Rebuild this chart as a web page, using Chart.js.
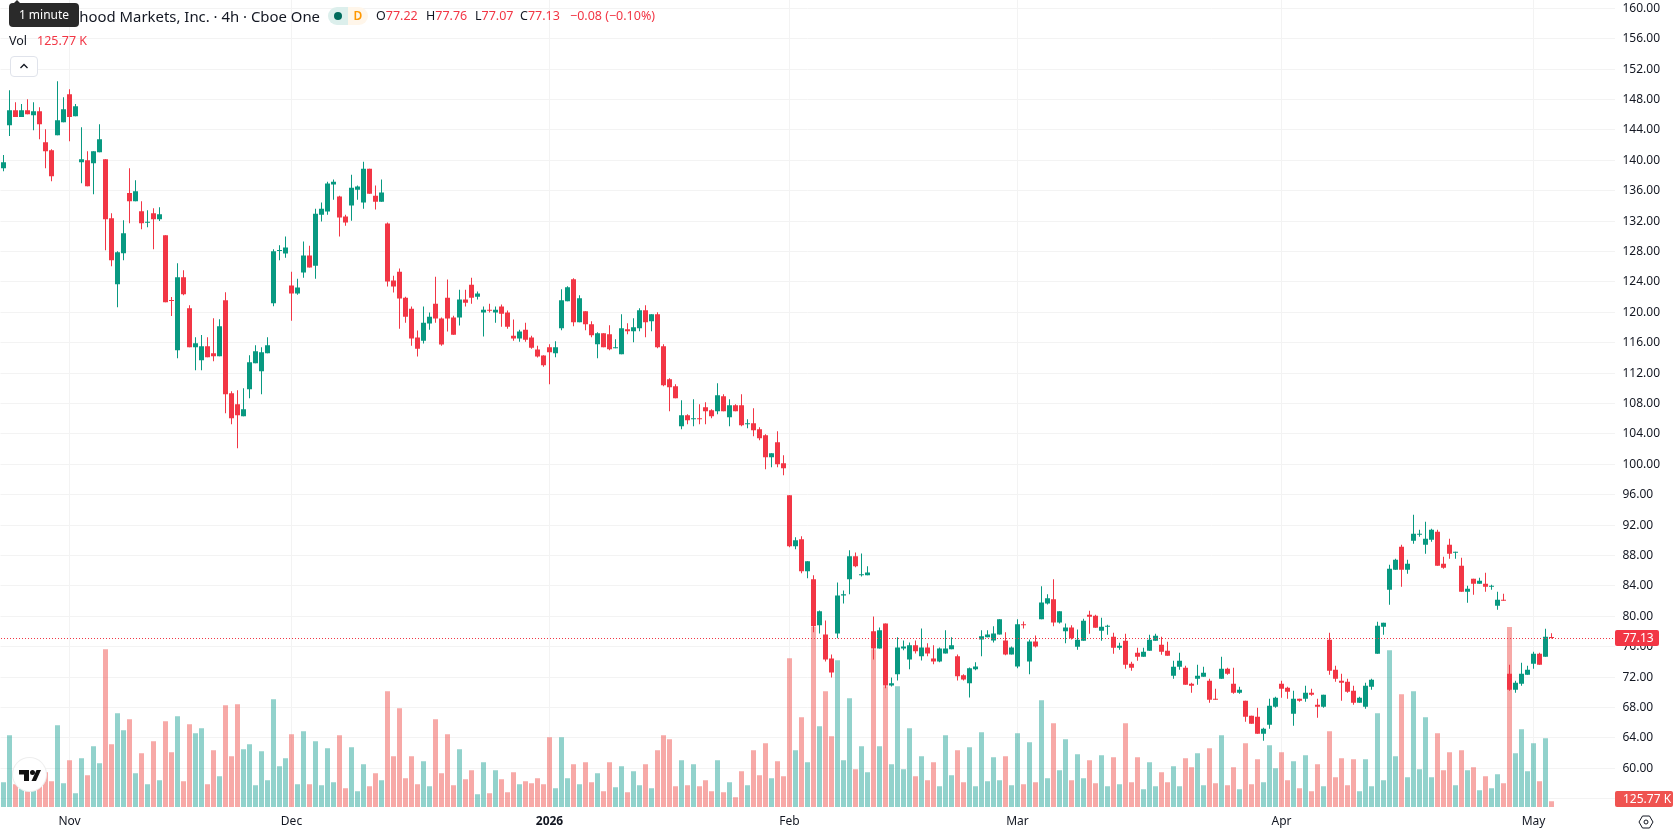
<!DOCTYPE html>
<html>
<head>
<meta charset="utf-8">
<title>Robinhood Markets, Inc.</title>
<script src="https://cdn.jsdelivr.net/npm/chart.js@4/dist/chart.umd.min.js"></script>
<style>
    html, body { margin: 0; padding: 0; background: #fff; overflow: hidden; }
    body { width: 1678px; height: 835px; position: relative; font-family: "Noto Sans", sans-serif; color: #131722; }
    canvas { position: absolute; left: 0; top: 0; }
    .legend { position: absolute; white-space: nowrap; font-size: 12.5px; line-height: 16px; background: none; }
    .red { color: #f23645; }
    #title { right: 1358px; top: 6px; font-size: 14.900px; line-height: 20px; }
    #dot-pill { position: absolute; left: 328px; top: 7px; width: 20px; height: 18px; border-radius: 9px 0 0 9px; background: #dcefec; }
    #dot-pill i { position: absolute; left: 6px; top: 5px; width: 8px; height: 8px; border-radius: 50%; background: #006b5c; }
    #delay-pill { position: absolute; left: 348px; top: 7px; width: 20px; height: 18px; border-radius: 0 9px 9px 0; background: #fff6ea; color: #ff9800; font-size: 12px; line-height: 18px; text-align: center; font-weight: 600; }
    #tip { position: absolute; left: 9px; top: 3px; width: 70px; height: 24px; border-radius: 4px; background: #2a2a2a; color: #fff; font-size: 12px; line-height: 24px; text-align: center; }
    #tip::before { content: ""; position: absolute; left: 4px; top: -3px; border: 4px solid transparent; border-top: 0; border-bottom-color: #2a2a2a; }
    #collapse { position: absolute; left: 10px; top: 56px; width: 26px; height: 19px; border: 1px solid #e0e3eb; border-radius: 4px; background: #fff; }
    #logo { position: absolute; left: 13px; top: 758px; width: 33px; height: 33px; border-radius: 50%; background: #fff; box-shadow: 0 0 0 1px #eeeeee; }
    #gear { position: absolute; left: 1638px; top: 814px; }
</style>
</head>
<body>
<canvas id="price-chart" width="1678" height="835"></canvas>

<div class="legend" id="title">Robinhood Markets, Inc. · 4h · Cboe One</div>
<div id="dot-pill"><i></i></div>
<div id="delay-pill">D</div>
<div class="legend" style="left:376px;top:8px">O<span class="red">77.22</span></div>
<div class="legend" style="left:426px;top:8px">H<span class="red">77.76</span></div>
<div class="legend" style="left:475px;top:8px">L<span class="red">77.07</span></div>
<div class="legend" style="left:520px;top:8px">C<span class="red">77.13</span></div>
<div class="legend red" style="left:570px;top:8px">−0.08 (−0.10%)</div>
<div class="legend" style="left:9px;top:33px">Vol</div>
<div class="legend red" style="left:37px;top:33px">125.77 K</div>
<div id="tip">1 minute</div>
<div id="collapse">
    <svg width="26" height="19" viewBox="0 0 26 19"><path d="M9.5 11 13 7.5 16.5 11" fill="none" stroke="#131722" stroke-width="1.3"/></svg>
</div>
<div id="logo">
    <svg width="33" height="33" viewBox="0 0 33 33"><path d="M6 12h10v11h-5v-6.500H6z" fill="#111"/><circle cx="19.500" cy="14.500" r="2.500" fill="#111"/><path d="M23.500 12H28l-5 11h-4.500z" fill="#111"/></svg>
</div>
<svg id="gear" width="16" height="16" viewBox="0 0 16 16"><path d="M4.500 2h7L15 8l-3.500 6h-7L1 8z" fill="none" stroke="#131722"/><circle cx="8" cy="8" r="2" fill="none" stroke="#131722"/></svg>

<script>
const opens = [
    138.96,144.62,146.6,145.68,146.6,145.94,146.46,142.39,141.33,143.31,
    145.02,148.7,145.81,139.75,140.02,139.62,141.07,140.15,132.39,123.7,
    127.78,135.68,134.62,133.31,131.77,133.04,132.25,130.15,121.6,115.02,
    124.62,120.54,115.41,113.7,115.54,114.62,114.23,121.6,109.36,107.91,
    106.33,109.89,113.31,112.25,114.62,121.2,128.05,127.72,123.51,122.46,
    125.22,127.46,126.14,132.85,133.25,136.8,135.22,132.59,134.04,136.14,
    134.43,138.9,135.35,134.56,131.67,124.17,125.35,121.93,120.48,116.67,
    116.27,118.51,121.14,119.17,121.93,119.3,119.3,121.67,123.64,122.06,
    119.96,120.35,119.96,120.75,119.96,116.93,116.54,117.72,116.67,115.09,
    114.3,115.4,114.61,117.9,121.46,124.35,118.69,120.14,118.43,115.8,
    117.25,117.11,115.27,114.48,117.77,117.51,117.9,120.27,118.82,119.75,
    115.54,111.19,110.27,105.01,106.46,105.93,106.06,107.51,107.11,106.98,
    108.96,106.19,107.77,107.77,105.27,105.4,104.61,103.82,100.93,102.9,
    100.14,95.93,89.22,90.14,85.93,84.88,78.81,77.62,74.46,77.75,
    82.75,84.86,87.89,85.39,85.39,78.02,75.78,79.07,70.91,72.36,
    75.78,74.33,76.18,74.73,75.91,74.46,74.07,75.12,75.65,74.73,
    72.23,71.18,73.02,76.96,77.23,76.83,77.62,76.83,74.99,73.41,
    78.94,74.07,76.7,79.6,81.7,82.23,79.2,78.02,78.54,75.99,
    76.78,80.2,80.07,78.1,78.62,77.31,75.86,76.78,73.75,75.2,
    74.68,75.46,76.78,76.25,75.46,72.18,73.36,73.23,71.12,71.78,
    72.04,71.52,69.15,71.78,73.1,71.12,69.94,68.89,66.91,66.78,
    64.54,65.73,68.1,71.12,70.6,67.18,69.15,69.15,69.94,68.36,
    68.1,76.91,72.96,71.52,71.39,70.2,68.62,68.1,70.73,75.07,
    78.62,83.49,86.12,89.15,86.12,89.94,90.73,89.41,90.07,91.12,
    86.91,89.41,88.36,86.65,83.23,84.94,84.28,84.28,83.89,81.39,
    82.18,72.44,70.33,71.12,72.31,73.75,75.07,74.68,77.22
];
const closes = [
    139.75,146.6,145.68,146.6,146.07,146.46,144.75,141.2,137.91,145.28,
    146.73,145.68,147.12,140.15,136.6,141.2,142.78,132.25,126.86,127.91,
    130.41,134.62,135.94,131.73,131.86,132.25,132.91,121.33,121.47,124.62,
    122.39,115.41,115.94,115.54,114.1,114.23,118.18,109.23,106.07,106.46,
    107.25,113.44,114.89,114.75,115.68,128.04,128.18,128.51,122.46,123.25,
    127.46,125.88,132.98,133.64,136.93,137.19,132.46,131.8,136.4,136.54,
    138.9,135.61,134.56,135.75,124.04,123.38,121.8,119.43,116.54,115.22,
    118.64,119.43,119.17,115.75,119.17,117.06,121.67,121.27,121.93,122.46,
    120.35,120.2,120.35,119.82,118.11,116.54,117.46,116.4,115.35,114.17,
    113.04,114.75,115.4,121.59,123.3,118.69,121.85,118.43,116.98,117.25,
    115.4,115.14,115.4,117.9,117.51,118.04,120.27,118.69,119.75,115.4,
    110.4,110.14,108.69,106.46,105.8,106.06,105.93,106.98,106.32,109.09,
    106.98,107.77,106.98,105.14,105.4,104.48,103.43,100.93,101.46,100.01,
    99.48,89.22,90.01,85.93,87.25,78.69,80.65,74.33,72.62,82.75,
    82.89,87.89,86.57,85.52,85.78,75.78,78.15,70.91,71.18,75.91,
    76.04,76.18,75.39,75.91,75.12,74.07,75.78,75.78,76.18,72.1,
    71.7,73.15,73.41,77.36,77.62,77.75,79.6,74.99,75.91,78.94,
    78.81,76.7,76.04,81.83,82.36,79.2,80.65,78.54,77.1,76.91,
    79.41,79.94,78.49,78.62,78.75,75.86,76.12,73.62,73.23,74.68,
    75.33,76.91,77.44,75.33,74.81,73.36,74.15,70.99,70.86,72.18,
    72.57,69.02,69.02,73.1,72.44,69.94,70.33,66.78,65.86,64.54,
    65.2,68.23,69.28,70.46,70.07,69.15,68.89,69.94,69.68,68.1,
    69.68,72.83,71.78,71.25,70.07,68.62,69.28,70.86,71.65,78.75,
    79.15,86.25,87.44,86.12,86.91,90.86,90.86,90.2,91.39,86.65,
    86.39,88.23,88.49,83.23,83.62,84.28,84.68,83.89,84.02,82.18,
    82.05,70.33,71.25,72.44,72.96,75.07,73.62,77.31,77.13
];
const highs = [
    140.68,149.23,147.65,147.39,148.04,147.65,146.99,144.1,141.46,150.41,
    148.31,149.36,147.39,144.36,141.2,141.2,144.75,140.15,133.04,128.04,
    132.12,138.96,137.39,134.62,133.44,133.7,133.83,130.15,122.0,126.46,
    125.54,120.94,116.73,117,116.73,119.23,119.1,122.65,109.62,109.75,
    110.02,114.36,115.68,115.41,116.73,128.31,128.83,129.96,125.35,124.43,
    129.3,128.77,133.64,134.43,137.19,137.46,135.35,132.85,138.11,136.67,
    139.82,138.9,136.67,137.46,131.8,124.82,125.75,122.06,120.75,117.59,
    120.75,119.96,124.69,119.3,124.3,119.56,122.98,122.98,124.56,122.72,
    120.75,121.14,120.75,121.01,120.22,119.04,117.72,118.64,116.93,115.61,
    114.35,115.8,116.19,123.04,123.43,124.48,122.25,120.14,118.82,117.38,
    117.25,118.3,116.46,119.75,118.56,119.22,120.54,120.93,119.75,120.01,
    115.8,111.32,110.54,108.43,106.59,108.56,107.9,108.17,107.25,110.67,
    109.22,108.56,107.9,109.22,105.93,107.38,104.88,103.96,101.46,104.35,
    101.19,95.93,90.4,90.54,87.25,85.39,80.78,79.46,74.99,84.46,
    83.41,88.68,88.41,88.28,86.57,79.99,78.54,79.07,71.96,77.23,
    76.83,76.57,76.83,78.41,76.44,76.18,75.91,78.15,77.23,74.99,
    72.36,73.28,73.94,78.15,78.15,78.68,79.6,77.89,76.04,79.6,
    79.33,76.96,77.49,83.94,82.89,84.86,80.65,79.07,78.81,78.28,
    79.68,80.73,80.2,79.81,78.89,77.83,76.52,77.7,74.02,75.86,
    75.86,77.57,77.7,77.31,76.65,74.15,75.2,73.49,71.25,73.62,
    73.36,71.78,70.46,74.68,73.23,73.23,70.73,68.89,66.91,67.96,
    65.33,69.15,69.41,71.52,70.73,70.2,69.15,70.86,70.46,69.15,
    69.68,77.83,73.49,72.44,71.78,70.86,69.41,71.25,71.78,79.28,
    79.15,86.78,87.57,89.41,87.44,93.36,91.39,92.44,91.52,91.39,
    87.83,90.2,88.49,87.7,84.02,84.94,85.07,85.73,84.15,83.23,
    82.96,73.62,71.52,73.89,73.49,75.33,75.2,78.36,77.76
];
const lows = [
    138.57,143.18,145.68,145.68,146.07,143.96,142.78,138.96,137.25,143.31,
    145.02,142.52,145.81,136.99,136.6,135.54,141.07,128.18,126.07,120.68,
    126.86,131.73,134.62,130.94,131.2,128.31,132.0,121.33,119.5,113.96,
    122.25,115.41,112.39,112.39,114.1,113.57,114.23,106.73,105.28,102.12,
    106.33,108.7,113.31,109.23,114.62,120.81,126.86,127.19,118.9,122.32,
    124.56,125.88,124.43,131.93,132.85,134.82,129.96,131.4,132.06,134.82,
    133.64,135.61,133.51,134.56,123.38,122.59,117.85,118.64,115.61,114.17,
    115.88,117.72,118.64,115.61,117.46,117.06,118.25,120.75,121.14,121.67,
    116.8,119.96,118.64,118.11,117.85,116.27,116.14,116.14,115.22,114.04,
    112.85,110.54,114.09,117.64,121.46,118.17,118.69,117.64,116.72,113.96,
    115.4,115.01,115.27,114.48,117.11,116.06,117.51,116.72,117.51,115.27,
    110.27,106.98,108.69,104.61,105.27,105.01,105.27,105.27,106.06,106.59,
    106.98,105.01,106.98,105.01,104.75,103.69,103.17,99.35,99.61,99.61,
    98.56,89.09,88.82,85.67,85.01,77.89,77.75,74.07,71.96,77.1,
    81.7,82.89,86.44,85.25,85.39,74.33,75.78,70.52,70.78,71.57,
    75.52,73.02,75.12,74.2,74.73,73.68,73.94,75.12,75.65,71.57,
    71.57,69.33,72.89,74.73,77.23,76.57,77.62,74.86,74.99,73.15,
    78.41,72.36,75.91,79.6,81.57,78.68,79.07,76.44,76.96,75.6,
    76.78,77.7,78.49,76.78,77.57,75.07,75.6,73.1,72.83,74.15,
    74.68,75.46,76.78,74.94,74.81,71.78,72.96,70.99,69.94,70.99,
    72.04,68.62,69.02,71.78,72.31,69.81,69.81,66.12,65.86,64.54,
    63.62,65.2,67.96,69.28,69.15,65.6,68.75,68.75,69.54,66.65,
    67.96,72.31,71.39,68.89,69.94,68.36,68.62,67.83,70.33,75.07,
    77.57,81.52,86.12,83.89,85.6,89.54,90.46,88.23,89.81,86.65,
    86.25,87.57,87.57,83.23,81.78,82.83,84.28,83.23,83.49,80.86,
    82.05,70.2,69.94,70.86,72.31,73.1,73.62,74.68,77.07
];
// volume per bar, in thousands
const volumes = [
    548,1591,503,407,444,370,666,770,570,1813,
    525,1036,303,1080,703,1347,969,3500,1391,2079,
    1702,1946,747,1191,503,1458,592,1902,1214,2013,
    570,1835,1635,1746,503,1258,681,2257,1125,2279,
    1280,1391,481,1236,592,2390,903,1080,1613,503,
    1680,503,1458,481,1302,548,1591,414,1325,348,
    947,459,747,592,2568,1125,2190,636,1125,503,
    1014,459,1946,747,1613,481,1280,614,814,281,
    992,303,814,614,326,770,503,570,525,636,
    503,1547,414,1547,636,947,503,992,548,747,
    348,992,437,903,326,792,481,947,414,1258,
    1591,1502,459,1036,481,947,459,592,348,1036,
    326,548,215,792,481,1258,703,1413,636,1014,
    681,3300,1258,1991,992,3996,1791,2568,1569,3256,
    1036,2412,836,1347,770,3500,1347,2679,947,2679,
    836,1746,681,1125,592,992,459,1591,703,1258,
    548,1325,459,1658,570,1103,592,1125,481,1635,
    503,1436,548,2368,636,1857,814,1502,592,1169,
    636,1036,525,1147,459,1103,503,1857,548,1103,
    392,992,459,770,548,903,459,1080,881,1191,
    481,1302,525,1591,481,881,392,1413,503,1058,
    548,1369,858,1214,592,1014,414,1147,348,947,
    459,1680,659,1080,481,1058,348,1058,459,2079,
    592,3478,1125,2501,659,2568,836,1991,659,1635,
    814,1214,481,1258,814,881,370,681,414,725,
    525,3996,1191,1724,792,1413,570,1524,125.77
];

const tickLabels = ['Nov', 'Dec', '2026', 'Feb', 'Mar', 'Apr', 'May'];
const tickIndexes = [11, 48, 91, 131, 169, 213, 255];
const priceTicks = [160, 156, 152, 148, 144, 140, 136, 132, 128, 124, 120, 116, 112, 108, 104, 100, 96, 92, 88, 84, 80, 76, 72, 68, 64, 60, 56];
const lastPrice = 77.13;
const lastVolume = 125.77;

// the time axis runs on past the last bar, so pad the slots with empty labels
const slotCount = 269;
const slots = Array.from({ length: slotCount }, (_, i) => i);

const isUp = opens.map((o, i) => closes[i] >= o);
const upColor = '#089981';
const downColor = '#f23645';
const gridColor = '#f3f3f3';
const labelFont = '"Noto Sans", sans-serif';

function roundBox(ctx, x, y, w, h, fill, text) {
    ctx.fillStyle = fill;
    ctx.beginPath();
    ctx.roundRect(x, y, w, h, 2);
    ctx.fill();
    ctx.fillStyle = '#fff';
    ctx.font = '12px ' + labelFont;
    ctx.textAlign = 'left';
    ctx.textBaseline = 'middle';
    ctx.fillText(text, x + 8, y + h / 2 + 0.5);
}

// dotted last price line and the two markers on the price axis
const lastPricePlugin = {
    id: 'lastPrice',
    afterDatasetsDraw(chart) {
        const { ctx, chartArea, scales } = chart;
        const y = Math.round(scales.y.getPixelForValue(lastPrice)) + 0.5;
        ctx.save();
        ctx.strokeStyle = downColor;
        ctx.setLineDash([1, 2]);
        ctx.beginPath();
        ctx.moveTo(Math.round(chartArea.left), y);
        ctx.lineTo(Math.round(chartArea.right), y);
        ctx.stroke();
        ctx.restore();
    },
    afterDraw(chart) {
        const { ctx, chartArea, scales } = chart;
        const left = Math.round(chartArea.right);
        const priceY = scales.y.getPixelForValue(lastPrice);
        const volY = Math.min(scales.volume.getPixelForValue(lastVolume), chartArea.bottom - 8);
        ctx.save();
        roundBox(ctx, left, Math.round(priceY - 8), 44, 16, downColor, lastPrice.toFixed(2));
        roundBox(ctx, left, Math.round(volY - 8), 58, 16, '#ef5350', lastVolume + ' K');
        ctx.restore();
    }
};

const ctx = document.getElementById('price-chart').getContext('2d');

new Chart(ctx, {
    type: 'bar',
    data: {
        labels: slots,
        datasets: [
            {
                label: 'Volume',
                yAxisID: 'volume',
                order: 3,
                data: volumes,
                barThickness: 5,
                backgroundColor: isUp.map(up => up ? 'rgba(38,166,154,0.5)' : 'rgba(239,83,80,0.5)')
            },
            {
                label: 'Wick',
                yAxisID: 'y',
                order: 2,
                data: lows.map((low, i) => [low, highs[i]]),
                barThickness: 1,
                backgroundColor: isUp.map(up => up ? upColor : downColor)
            },
            {
                label: 'Body',
                yAxisID: 'y',
                order: 1,
                data: opens.map((open, i) => [open, closes[i]]),
                barThickness: 5,
                minBarLength: 1,
                backgroundColor: isUp.map(up => up ? upColor : downColor)
            }
        ]
    },
    options: {
        responsive: false,
        animation: false,
        devicePixelRatio: 1,
        layout: { autoPadding: false, padding: { left: 0.5 } },
        datasets: { bar: { grouped: false, inflateAmount: 0, borderWidth: 0 } },
        plugins: {
            legend: { display: false },
            tooltip: { enabled: false }
        },
        scales: {
            x: {
                type: 'category',
                offset: true,
                afterBuildTicks: axis => {
                    axis.ticks = tickIndexes.map(value => ({ value }));
                },
                afterFit: axis => {
                    axis.height = 28;
                    axis.paddingLeft = 0;
                    axis.paddingRight = 0;
                },
                border: { display: false },
                grid: { offset: false, color: gridColor, drawTicks: false },
                ticks: {
                    autoSkip: false,
                    maxRotation: 0,
                    padding: 7,
                    color: '#131722',
                    callback: value => tickLabels[tickIndexes.indexOf(value)],
                    font: c => ({
                        family: labelFont,
                        size: 12,
                        weight: c.tick && c.tick.value === 91 ? 'bold' : 'normal'
                    })
                }
            },
            y: {
                position: 'right',
                min: 54.91,
                max: 161.09,
                afterBuildTicks: axis => {
                    axis.ticks = priceTicks.map(value => ({ value }));
                },
                afterFit: axis => {
                    // labels stay inside the pane, no extra room needed above or below
                    axis.width = 63.5;
                    axis.paddingTop = 0;
                    axis.paddingBottom = 0;
                },
                border: { display: false },
                grid: { color: gridColor, drawTicks: false },
                ticks: {
                    padding: 8,
                    color: '#131722',
                    callback: value => value.toFixed(2),
                    font: { family: labelFont, size: 12 }
                }
            },
            volume: {
                display: false,
                min: 0,
                max: 17915
            }
        }
    },
    plugins: [lastPricePlugin]
});
</script>
</body>
</html>
